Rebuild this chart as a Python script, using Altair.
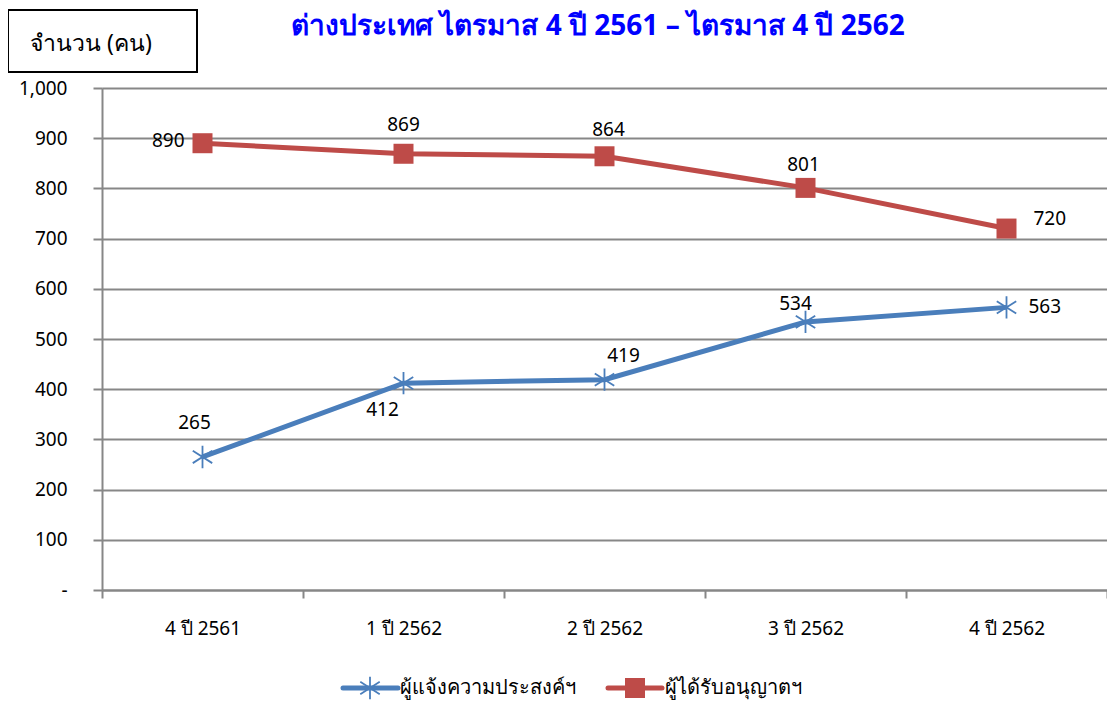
import altair as alt
import pandas as pd

# ---------------- data ----------------
categories = ["4 ปี 2561", "1 ปี 2562", "2 ปี 2562", "3 ปี 2562", "4 ปี 2562"]
series_names = ["ผู้แจ้งความประสงค์ฯ", "ผู้ได้รับอนุญาตฯ"]
notify_values = [265, 412, 419, 534, 563]
permit_values = [890, 869, 864, 801, 720]
y_tick_values = [0, 100, 200, 300, 400, 500, 600, 700, 800, 900, 1000]
chart_title = "ต่างประเทศ ไตรมาส 4 ปี 2561 – ไตรมาส 4 ปี 2562"
y_title = "จำนวน (คน)"

# ---------------- styles ----------------
BLUE = "#4A7EBB"
RED = "#BE4B48"
GRID = "#878787"
FONT = "Noto Sans"
W, H = 1005, 502

ASTERISK = "M0,-1L0,1M-0.87,-0.55L0.87,0.55M-0.87,0.55L0.87,-0.55"

# label offsets (dx, dy, align) per point
label_offsets = {
    series_names[0]: [(-8, -34, "center"), (-21, 27, "center"), (19, -24, "center"),
                      (-10, -18, "center"), (22, 0, "left")],
    series_names[1]: [(-18, -2, "right"), (0, -29, "center"), (4, -26, "center"),
                      (-2, -23, "center"), (27, -10, "left")],
}

rows = []
for i, (c, v) in enumerate(zip(categories, notify_values)):
    rows.append({"cat": c, "series": series_names[0], "value": v, "idx": i})
for i, (c, v) in enumerate(zip(categories, permit_values)):
    rows.append({"cat": c, "series": series_names[1], "value": v, "idx": i})
df = pd.DataFrame(rows)

x_enc = alt.X(
    "cat:N",
    sort=categories,
    bandPosition=0.5,
    scale=alt.Scale(type="band", paddingInner=0, paddingOuter=0),
    axis=alt.Axis(
        title=None,
        tickBand="extent",
        tickSize=8,
        tickColor=GRID,
        tickWidth=2,
        domainColor=GRID,
        domainWidth=2,
        labelFont=FONT,
        labelFontSize=19,
        labelColor="#000000",
        labelPadding=21,
        labelAngle=0,
        grid=False,
    ),
)
y_enc = alt.Y(
    "value:Q",
    scale=alt.Scale(domain=[0, 1000], nice=False),
    axis=alt.Axis(
        title=None,
        values=y_tick_values,
        labelExpr="datum.value == 0 ? '-' : format(datum.value, ',')",
        tickSize=9,
        tickColor=GRID,
        tickWidth=2,
        domainColor=GRID,
        domainWidth=2,
        gridColor=GRID,
        gridWidth=2,
        labelFont=FONT,
        labelFontSize=19,
        labelColor="#000000",
        labelPadding=26,
    ),
)

base = alt.Chart(df)

lines = base.mark_line(strokeWidth=5).encode(
    x=x_enc, y=y_enc,
    color=alt.Color("series:N", scale=alt.Scale(domain=series_names, range=[BLUE, RED]), legend=None),
    detail="series:N",
)

pts_notify = base.transform_filter(alt.datum.series == series_names[0]).mark_point(
    shape=ASTERISK, size=500, filled=False, stroke=BLUE, strokeWidth=1.8, opacity=1
).encode(x=x_enc, y=y_enc)

pts_permit = base.transform_filter(alt.datum.series == series_names[1]).mark_square(
    size=400, color=RED, opacity=1
).encode(x=x_enc, y=y_enc)

label_layers = []
for s in series_names:
    for i, (dx, dy, al) in enumerate(label_offsets[s]):
        label_layers.append(
            base.transform_filter((alt.datum.series == s) & (alt.datum.idx == i))
            .mark_text(dx=dx, dy=dy, align=al, baseline="middle", font=FONT, fontSize=19, color="#000000")
            .encode(x=x_enc, y=y_enc, text=alt.Text("value:Q", format=","))
        )

# title
title_df = pd.DataFrame({"t": [chart_title]})
title_layer = alt.Chart(title_df).mark_text(
    align="center", baseline="alphabetic", font=FONT, fontSize=28, fontWeight="bold", color="#0000FF"
).encode(x=alt.value(496), y=alt.value(-53), text="t:N")

# y title box
ytitle_df = pd.DataFrame({"t": [y_title]})
ybox = alt.Chart(ytitle_df).mark_rect(fill="white", stroke="#000000", strokeWidth=2).encode(
    x=alt.value(-94), x2=alt.value(95), y=alt.value(-78), y2=alt.value(-16)
)
ytext = alt.Chart(ytitle_df).mark_text(
    align="left", baseline="middle", font=FONT, fontSize=23, color="#000000"
).encode(x=alt.value(-72), y=alt.value(-44), text="t:N")

# custom legend
leg1_df = pd.DataFrame({"t": [series_names[0]]})
leg2_df = pd.DataFrame({"t": [series_names[1]]})
LY = 600
leg_layers = [
    alt.Chart(leg1_df).mark_rule(color=BLUE, strokeWidth=5, strokeCap="round").encode(
        x=alt.value(241), x2=alt.value(296), y=alt.value(LY)),
    alt.Chart(leg1_df).mark_point(shape=ASTERISK, size=500, filled=False, stroke=BLUE, strokeWidth=1.8, opacity=1).encode(
        x=alt.value(268), y=alt.value(LY)),
    alt.Chart(leg1_df).mark_text(align="left", baseline="middle", font=FONT, fontSize=20, color="#000000").encode(
        x=alt.value(298), y=alt.value(LY), text="t:N"),
    alt.Chart(leg2_df).mark_rule(color=RED, strokeWidth=5, strokeCap="round").encode(
        x=alt.value(506), x2=alt.value(560), y=alt.value(LY)),
    alt.Chart(leg2_df).mark_square(size=400, color=RED, opacity=1).encode(
        x=alt.value(533), y=alt.value(LY)),
    alt.Chart(leg2_df).mark_text(align="left", baseline="middle", font=FONT, fontSize=20, color="#000000").encode(
        x=alt.value(563), y=alt.value(LY), text="t:N"),
]

chart = alt.layer(
    lines, pts_notify, pts_permit, *label_layers, title_layer, ybox, ytext, *leg_layers
).properties(
    width=W, height=H,
    autosize=alt.AutoSizeParams(type="none"),
    padding={"left": 94, "top": 80, "right": 0, "bottom": 110},
).configure_view(stroke=None).configure(background="white")

chart.save("out.html", embed_options={"renderer": "svg", "actions": False})
